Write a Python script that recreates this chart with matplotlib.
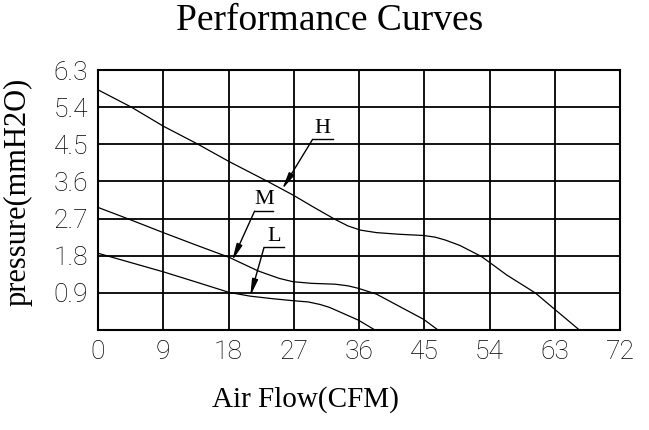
import numpy as np
import matplotlib
matplotlib.use("Agg")
import matplotlib.pyplot as plt

# curve data (CFM, mmH2O)
h_flow = [0, 4.6, 9, 13.8, 18.1, 23.5, 26.9, 29.9, 32.7, 34.5, 36.2, 38.4, 41.5, 44.9, 46.5, 47.9, 49.9, 52.9, 56.4, 60.3, 62.8, 66.4]
h_pres = [5.82, 5.40, 4.94, 4.50, 4.08, 3.59, 3.27, 2.96, 2.68, 2.52, 2.42, 2.36, 2.32, 2.29, 2.25, 2.18, 2.05, 1.78, 1.33, 0.90, 0.53, 0.0]
m_flow = [0, 4.2, 9, 13.5, 18.1, 22.1, 25.0, 26.9, 29.5, 32.7, 34.5, 35.9, 38.4, 41.7, 44.9, 46.9]
m_pres = [2.97, 2.69, 2.36, 2.06, 1.76, 1.43, 1.25, 1.17, 1.13, 1.11, 1.07, 1.01, 0.87, 0.56, 0.26, 0.0]
l_flow = [0, 9, 13.4, 18.1, 21, 24, 26.9, 29.0, 30.6, 31.9, 33.2, 35.9, 38.2]
l_pres = [1.86, 1.41, 1.17, 0.91, 0.82, 0.76, 0.71, 0.68, 0.62, 0.55, 0.45, 0.24, 0.0]

x_ticks = [0, 9, 18, 27, 36, 45, 54, 63, 72]
y_ticks = [0.9, 1.8, 2.7, 3.6, 4.5, 5.4, 6.3]
y_labels = ['0.9', '1.8', '2.7', '3.6', '4.5', '5.4', '6.3']

# label name, arrow tip, elbow, end of underline
labels = ['H', 'M', 'L']
tips = [(25.4, 3.41), (18.5, 1.68), (21.0, 0.82)]
elbows = [(29.6, 4.62), (21.6, 2.88), (22.9, 2.00)]
ends = [(32.4, 4.62), (24.2, 2.88), (25.6, 2.00)]

fig = plt.figure(figsize=(6.49, 4.30), dpi=100)
ax = fig.add_axes([98 / 649, 1 - 330 / 430, 522 / 649, 260 / 430])

for fl, pr in [(h_flow, h_pres), (m_flow, m_pres), (l_flow, l_pres)]:
    ax.plot(fl, pr, color='black', lw=0.9, zorder=3)

ax.set_xlim(0, 72)
ax.set_ylim(0, 6.3)
ax.set_xticks(x_ticks)
ax.set_yticks(y_ticks)
ax.set_yticklabels(y_labels)
ax.grid(True, color='black', lw=1.3)
ax.tick_params(length=0, labelsize=19, pad=7, labelcolor='black')
for lab in ax.get_xticklabels() + ax.get_yticklabels():
    lab.set_fontfamily(['Roboto', 'DejaVu Sans'])
    lab.set_fontweight('light')
for s in ax.spines.values():
    s.set_linewidth(1.5)

for name, tip, elb, end in zip(labels, tips, elbows, ends):
    ax.plot([elb[0], end[0]], [elb[1], end[1]], color='black', lw=1.0, zorder=4)
    ax.annotate('', xy=tip, xytext=elb,
                arrowprops=dict(arrowstyle='-|>,head_length=1.0,head_width=0.18',
                                color='black', lw=1.0, shrinkA=0, shrinkB=0), zorder=4)
    ax.text((elb[0] + end[0]) / 2, elb[1] + 0.04, name, ha='center', va='bottom',
            fontsize=16, family='Liberation Serif', zorder=4)

fig.text(330 / 649, 1 - 21 / 430, 'Performance Curves', ha='center', va='center',
         fontsize=27, family='Liberation Serif')
fig.text(305 / 649, 1 - 400 / 430, 'Air Flow(CFM)', ha='center', va='center',
         fontsize=21, family='Liberation Serif')
fig.text(18 / 649, 1 - 192 / 430, 'pressure(mmH2O)', ha='center', va='center',
         rotation=90, fontsize=22, family='Liberation Serif')

fig.savefig('out.png', dpi=100)
